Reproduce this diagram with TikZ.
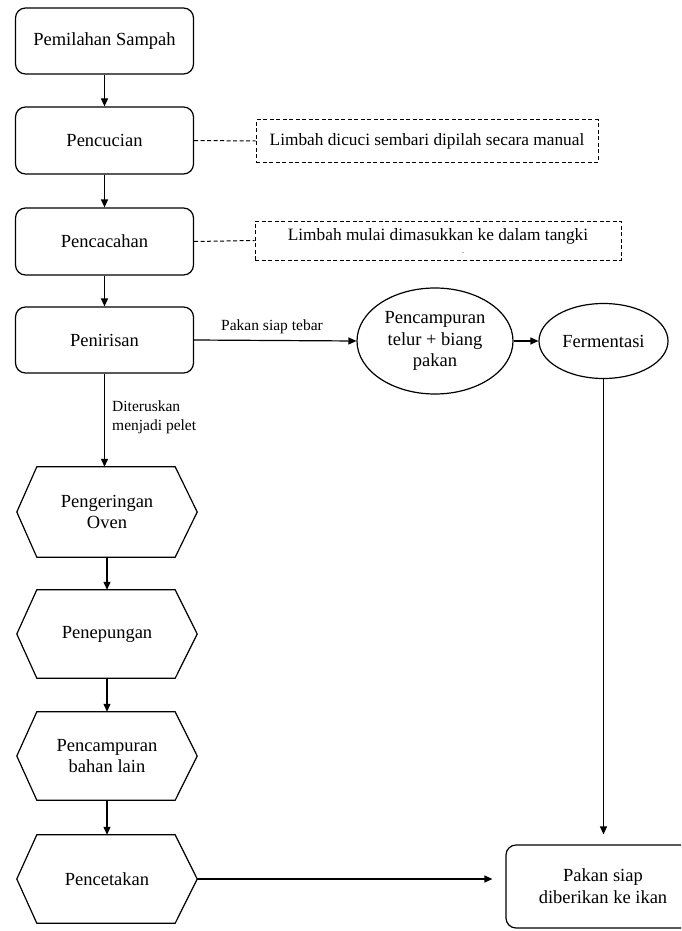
\documentclass[tikz,border=0pt]{standalone}
\usepackage{fontspec}
\setmainfont{Liberation Serif}
\newfontfamily\tnr{Liberation Serif}
\usetikzlibrary{arrows.meta,shapes.geometric}
\tikzset{
 proc/.style={draw, line width=1.2pt, rounded corners=10pt, minimum width=178pt, minimum height=66pt, align=center, inner sep=0pt, font=\tnr\fontsize{18.5}{21.7}\selectfont},
 notebox/.style={draw, dash pattern=on 4pt off 2.5pt, line width=1pt, inner sep=0pt},
 notetext/.style={inner sep=0pt, font=\tnr\fontsize{17.3}{20}\selectfont},
 oval/.style={draw, ellipse, line width=1.2pt, inner sep=0pt, align=center, font=\tnr\fontsize{18.5}{21.7}\selectfont},
 hexcore/.style={minimum width=180pt, minimum height=89pt, inner sep=0pt, align=center, font=\tnr\fontsize{18.5}{21.7}\selectfont},
 hexline/.style={draw, line width=1.2pt},
 arr/.style={-{Triangle[length=8pt,width=7pt]}, line width=1.2pt},
 conn/.style={dash pattern=on 4pt off 2.5pt, line width=1pt},
 lbl/.style={inner sep=0pt, font=\tnr\fontsize{15.5}{19}\selectfont}
}
\newcommand{\hexpath}[1]{\draw[hexline] ([xshift=20pt]#1.north west) -- ([xshift=-22pt]#1.north east) -- (#1.east) -- ([xshift=-22pt]#1.south east) -- ([xshift=20pt]#1.south west) -- (#1.west) -- cycle;}
\begin{document}
\begin{tikzpicture}[x=1pt,y=-1pt]
\useasboundingbox (0,0) rectangle (681,931);
\clip (0,0) rectangle (681,931);
% left column
\node[proc] (n1) at (104.5,41) {Pemilahan Sampah};
\node[proc, minimum height=67pt] (n2) at (104.5,140.5) {Pencucian};
\node[proc, minimum height=67pt] (n3) at (104.5,241.5) {Pencacahan};
\node[proc] (n4) at (104.5,340) {Penirisan};
% notes
\node[notebox, minimum width=342pt, minimum height=42pt] (d1) at (427,141) {};
\node[notetext] (t1) at (d1.center) {Limbah dicuci sembari dipilah secara manual};
\node[notebox, minimum width=366pt, minimum height=39pt] (d2) at (438,240.5) {};
\node[notetext] (t2) at (438,236.5) {Limbah mulai dimasukkan ke dalam tangki};
\node[inner sep=0pt, font=\tnr\fontsize{8}{8}\selectfont] (t2dot) at (463,253.5) {.};
% ellipses
\node[oval, minimum width=156pt, minimum height=106pt] (e1) at (435,341) {Pencampuran\\telur + biang\\pakan};
\node[oval, minimum width=129pt, minimum height=75pt] (e2) at (603.5,341) {Fermentasi};
% hexagons
\node[hexcore, minimum height=90pt] (h1) at (107,512) {Pengeringan\\Oven};
\node[hexcore, minimum height=88pt] (h2) at (107,634) {Penepungan};
\node[hexcore, minimum height=88pt] (h3) at (107,756) {Pencampuran\\bahan lain};
\node[hexcore, minimum height=88pt] (h4) at (107,879) {Pencetakan};
\hexpath{h1}
\hexpath{h2}
\hexpath{h3}
\hexpath{h4}
% final
\node[proc, minimum width=194pt, minimum height=83pt] (f) at (603,886.5) {Pakan siap\\diberikan ke ikan};
% connectors
\draw[arr] (n1) -- (n2);
\draw[arr] (n2) -- (n3);
\draw[arr] (n3) -- (n4);
\draw[conn] (n2.east) -- (d1.west);
\draw[conn] (n3.east) -- (d2.west);
\draw[arr] (n4.east) -- (e1.west);
\node[lbl] (l1) at (272,327) {Pakan siap tebar};
\draw[arr] (e1.east) -- (e2.west);
\draw[arr] (n4.south) -- (n4.south |- h1.north);
\node[lbl, anchor=west, align=left] (l2) at (112,417) {Diteruskan\\menjadi pelet};
\draw[arr] (h1.south) -- (h2.north);
\draw[arr] (h2.south) -- (h3.north);
\draw[arr] (h3.south) -- (h4.north);
\draw[arr, shorten >=13pt] (h4.east) -- (h4.east -| f.west);
\draw[arr, shorten >=10pt] (e2.south) -- (e2.south |- f.north);
\end{tikzpicture}
\end{document}
